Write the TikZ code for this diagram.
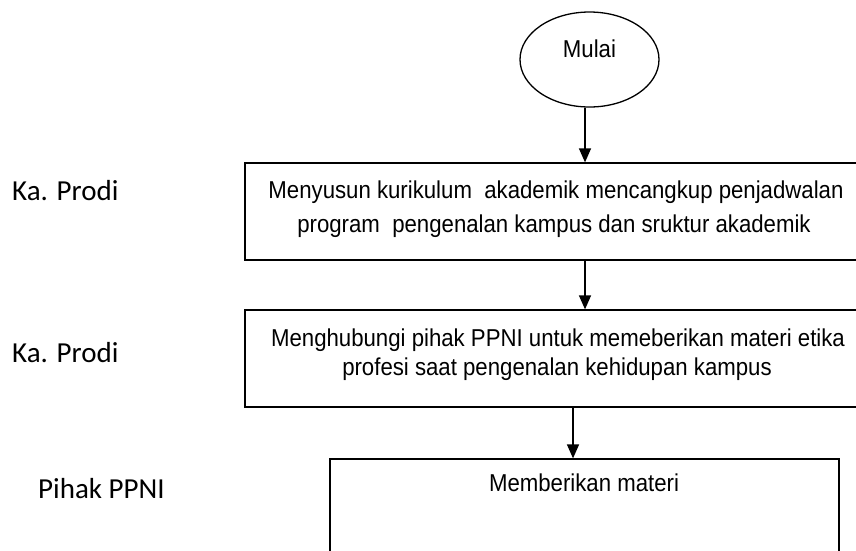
\documentclass[tikz,border=0pt]{standalone}
\usepackage{fontspec}
\setmainfont{Liberation Sans}
\newfontfamily\calib{Carlito}
\usetikzlibrary{arrows.meta,shapes.geometric}
\newcommand{\tallt}[1]{\scalebox{1}[1.1]{#1}}
\tikzset{
  boxnode/.style={draw=black, line width=1.3pt, inner sep=0pt},
  boxtext/.style={anchor=base, inner sep=0pt, font=\fontsize{22.2}{27}\selectfont},
  lanetext/.style={anchor=base west, inner sep=0pt, font=\calib\fontsize{29}{34}\selectfont},
  arr/.style={line width=1.4pt, -{Triangle[width=12pt,length=14pt]}}
}
\begin{document}
\begin{tikzpicture}[x=1pt,y=-1pt]
\clip (0,0) rectangle (856,550);
\fill[white] (0,0) rectangle (856,550);
% start
\node[ellipse, draw=black, line width=1.3pt, minimum width=139, minimum height=95, inner sep=0pt] (e) at (589.5,59.5) {};
\node[boxtext] (tm) at (589.5,57.5) {\tallt{Mulai}};
% boxes
\node[boxnode, minimum width=625, minimum height=97] (b1) at (557.5,211.5) {};
\node[boxnode, minimum width=625, minimum height=97] (b2) at (557.5,358.5) {};
\node[boxnode, minimum width=509, minimum height=141] (b3) at (584.5,529.5) {};
% box texts
\node[boxtext] (t1a) at (556,198) {\tallt{Menyusun kurikulum \ akademik mencangkup penjadwalan}};
\node[boxtext] (t1b) at (554,232) {\tallt{program \ pengenalan kampus dan sruktur akademik}};
\node[boxtext] (t2a) at (558,346) {\tallt{Menghubungi pihak PPNI untuk memeberikan materi etika}};
\node[boxtext] (t2b) at (557,375) {\tallt{profesi saat pengenalan kehidupan kampus}};
\node[boxtext] (t3a) at (584,491) {\tallt{Memberikan materi}};
% lane labels
\node[lanetext] (l1) at (12,200) {Ka. Prodi};
\node[lanetext] (l2) at (12,362) {Ka. Prodi};
\node[lanetext] (l3) at (38,498) {Pihak PPNI};
% arrows
\draw[arr] ([xshift=-4.5pt]e.south) -- ([xshift=-4.5pt]e.south |- b1.north);
\draw[arr] ([xshift=27.5pt]b1.south) -- ([xshift=27.5pt]b1.south |- b2.north);
\draw[arr] ([xshift=-11.5pt]b3.north |- b2.south) -- ([xshift=-11.5pt]b3.north);
\end{tikzpicture}
\end{document}
